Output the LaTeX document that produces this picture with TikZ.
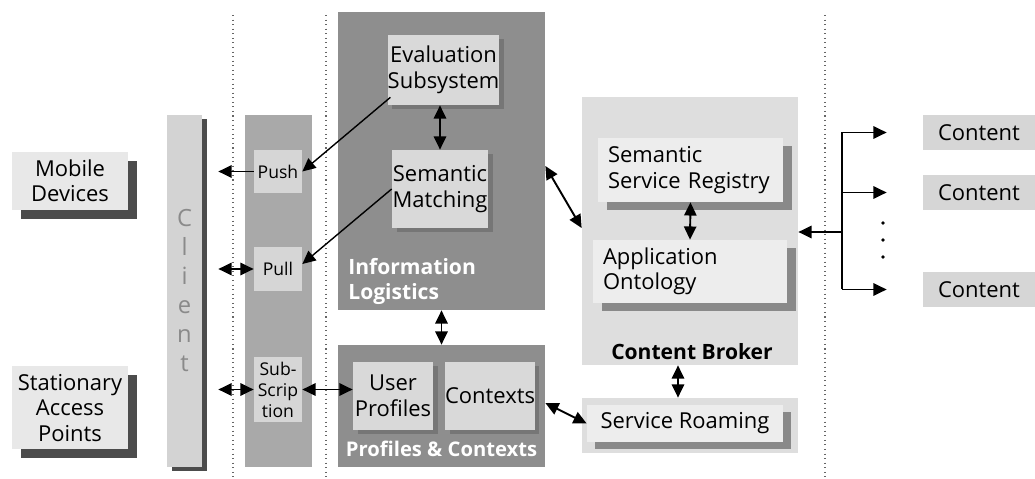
\documentclass[tikz,border=0pt]{standalone}
\usepackage{fontspec}
\setmainfont{Open Sans}
\usetikzlibrary{arrows.meta,shadows}

\definecolor{boxlight}{HTML}{E8E8E8}
\definecolor{boxshade}{HTML}{4C4C4C}
\definecolor{clientbg}{HTML}{D3D3D3}
\definecolor{clienttxt}{HTML}{8A8A8A}
\definecolor{protobg}{HTML}{A9A9A9}
\definecolor{protobox}{HTML}{D6D6D6}
\definecolor{logbg}{HTML}{8E8E8E}
\definecolor{logbox}{HTML}{D9D9D9}
\definecolor{logshade}{HTML}{767676}
\definecolor{brokerbg}{HTML}{DEDEDE}
\definecolor{brokerbox}{HTML}{EDEDED}
\definecolor{brokershade}{HTML}{898989}

\tikzset{
  wh/.style 2 args={minimum width=#1*0.02cm, minimum height=#2*0.02cm},
  plain/.style={inner sep=0pt, font=\fontsize{12.5}{14.5}\selectfont, align=center},
  endpoint/.style={plain, fill=boxlight,
    drop shadow={shadow xshift=0.18cm, shadow yshift=-0.18cm, fill=boxshade, opacity=1}},
  panel/.style={inner sep=0pt},
  protobox/.style={plain, fill=protobox, font=\fontsize{10}{12}\selectfont},
  logbox/.style={plain, fill=logbox,
    drop shadow={shadow xshift=0.09cm, shadow yshift=-0.09cm, fill=logshade, opacity=1}},
  brokerbox/.style={plain, fill=brokerbox, align=left, text width=#1*0.02cm-0.4cm,
    drop shadow={shadow xshift=0.18cm, shadow yshift=-0.16cm, fill=brokershade, opacity=1}},
  whitelabel/.style={inner sep=0pt, text=white, align=left,
    font=\fontsize{12}{14.5}\selectfont\bfseries},
  content/.style={plain, fill=protobox, wh={112}{35}},
  link/.style={line width=1.1pt},
}

\begin{document}
\begin{tikzpicture}[x=0.02cm, y=-0.02cm, >={Triangle[length=7.5pt,width=7pt]}]
\useasboundingbox (0,0) rectangle (1035,479);

% tier borders
\foreach \x in {233,326,825}
  \draw[dotted, line width=0.6pt, black!60] (\x,15) -- (\x,479);

% end devices
\node[endpoint, wh={116}{58}] (mobile) at (70,181) {Mobile\\Devices};
\node[endpoint, wh={116}{83}] (station) at (70,408) {Stationary\\Access\\Points};

% client bar
\node[panel, fill=clientbg, wh={35}{352}, text=clienttxt, align=center,
  font=\fontsize{13.5}{16.5}\selectfont,
  drop shadow={shadow xshift=0.1cm, shadow yshift=-0.08cm, fill=boxshade, opacity=1}]
  (cl) at (184.5,291) {C\\l\\i\\e\\n\\t};

% delivery protocols
\node[panel, fill=protobg, wh={67}{352}] (proto) at (278.5,291) {};
\node[protobox, wh={48}{43}] (push) at (278,171.5) {Push};
\node[protobox, wh={48}{44}] (pull) at (278,269) {Pull};
\node[protobox, wh={48}{65}] (sub) at (278,389.5) {Sub-\\Scrip\\tion};

% information logistics
\node[panel, fill=logbg, wh={207}{298}] (infolog) at (441.5,161) {};
\node[logbox, wh={103}{70}] (eval) at (443.5,70) {Evaluation\\Subsystem};
\node[logbox, wh={96}{78}] (match) at (440,189) {Semantic\\Matching};
\node[whitelabel, anchor=south west] (loglabel) at (348,305) {Information\\Logistics};

% profiles and contexts
\node[panel, fill=logbg, wh={207}{122}] (profctx) at (441.5,406) {};
\node[logbox, wh={80}{68}] (userprof) at (393,396) {User\\Profiles};
\node[logbox, wh={86}{68}] (contexts) at (490,396) {Contexts};
\node[whitelabel, font=\fontsize{11.5}{14}\selectfont\bfseries] (pclabel) at (441.5,449) {Profiles \& Contexts};

% content broker
\node[panel, fill=brokerbg, wh={216}{268}] (broker) at (690,231) {};
\node[brokerbox=185, wh={185}{64}] (registry) at (690.5,170) {Semantic\\Service Registry};
\node[brokerbox=194, wh={194}{63}] (ontology) at (690,271.5) {Application\\Ontology};
\node[inner sep=0pt, font=\fontsize{12}{14.5}\selectfont\bfseries] (brlabel) at (692,352) {Content Broker};

% service roaming
\node[panel, fill=brokerbg, wh={216}{55}] (rpanel) at (690,425.5) {};
\node[plain, fill=brokerbox, wh={196}{37},
  drop shadow={shadow xshift=0.16cm, shadow yshift=-0.14cm, fill=brokershade, opacity=1}]
  (roaming) at (685,423.5) {Service Roaming};

% content sources
\node[content] (c1) at (979,132.5) {Content};
\node[content] (c2) at (979,192.5) {Content};
\node[content] (c3) at (979,289.5) {Content};

% connectors
\draw[link, <-, shorten <=0.32cm] (push.west -| cl.east) -- (push.west);
\draw[link, <->, shorten <=0.32cm] (pull.west -| cl.east) -- (pull.west);
\draw[link, <->, shorten <=0.32cm] (sub.west -| cl.east) -- (sub.west);
\draw[link, <->] (sub.east) -- (sub.east -| userprof.west);
\draw[line width=0.8pt, ->] ([shift={(0.06cm,0.16cm)}]eval.south west) -- (push.east);
\draw[line width=0.8pt, ->] (match.west) -- ([yshift=0.1cm]pull.east);
\draw[link, <->] (eval.south -| match.north) -- (match.north);
\draw[link, <->] (infolog.south) -- (profctx.north);
\draw[link, <->] ([yshift=-0.1cm]infolog.east) -- ([yshift=0.06cm]broker.west);
\draw[link, <->] ([yshift=0.06cm]profctx.east) -- (roaming.west);
\draw[link, <->] (registry.south) -- (ontology.north);
\draw[link, <->] ([xshift=-0.24cm]broker.south) -- ([xshift=-0.24cm]rpanel.north);

% fan-out to the content sources
\coordinate (hub) at (842,232);
\draw[link, ->] (hub) -- (hub -| broker.east);
\draw[link] (hub |- c1.west) -- (hub |- c3.west);
\foreach \c in {c1,c2,c3}
  \draw[link, ->, shorten >=0.72cm] (hub |- \c.west) -- (\c.west);
\foreach \y in {223,240,257}
  \fill (883,\y) circle (1.1pt);
\end{tikzpicture}
\end{document}
